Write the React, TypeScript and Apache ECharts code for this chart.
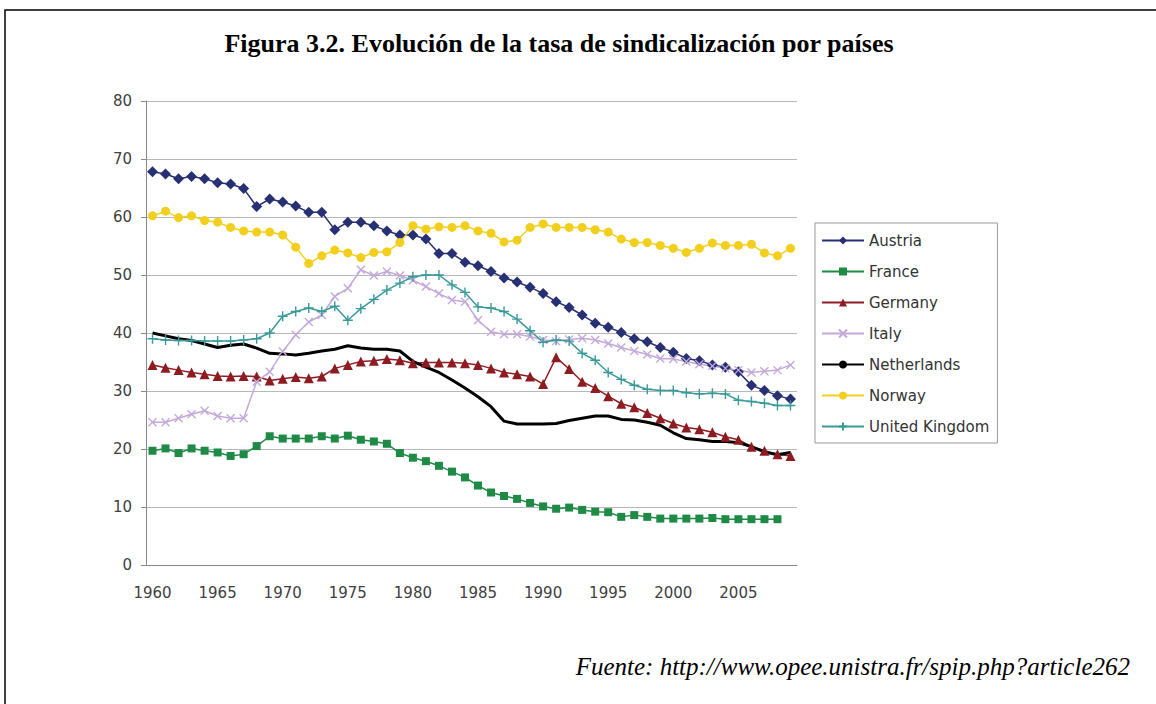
import React, { useEffect, useRef } from "react";
import * as echarts from "echarts";

const years: string[] = [];
for (let y = 1960; y <= 2009; y++) years.push(String(y));

const austria = [67.8,67.4,66.6,67.0,66.6,65.9,65.7,64.9,61.8,63.1, 62.6,61.9,60.8,60.8,57.8,59.1,59.1,58.5,57.6,56.9, 56.9,56.2,53.7,53.7,52.2,51.6,50.6,49.5,48.8,47.9, 46.8,45.4,44.4,43.1,41.7,41.0,40.1,39.0,38.5,37.5, 36.7,35.6,35.2,34.5,34.1,33.3,31.0,30.1,29.2,28.6];
const france = [19.7,20.1,19.3,20.1,19.7,19.4,18.8,19.1,20.5,22.2, 21.8,21.8,21.8,22.2,21.8,22.3,21.6,21.3,20.9,19.3, 18.5,17.9,17.1,16.1,15.1,13.7,12.5,11.9,11.4,10.7, 10.1,9.7,9.9,9.5,9.2,9.1,8.3,8.6,8.3,8.0, 8.0,8.0,8.0,8.1,7.9,7.9,7.9,7.9,7.9,null];
const germany = [34.5,34.0,33.6,33.2,32.9,32.6,32.5,32.6,32.5,31.8, 32.1,32.4,32.2,32.5,33.9,34.5,35.1,35.2,35.5,35.3, 34.8,34.9,34.9,34.9,34.8,34.5,33.9,33.2,32.9,32.5, 31.2,35.8,33.8,31.6,30.5,29.1,27.8,27.2,26.2,25.3, 24.4,23.7,23.4,22.9,22.1,21.6,20.4,19.7,19.1,18.8];
const italy = [24.6,24.6,25.3,26.0,26.6,25.7,25.3,25.3,31.6,33.3, 36.8,39.7,41.9,43.1,46.3,47.7,50.9,49.9,50.6,49.9, 49.1,48.0,46.8,45.7,45.4,42.2,40.2,39.8,39.8,39.4, 38.8,38.6,38.9,39.1,38.8,38.2,37.5,36.9,36.3,35.6, 35.5,35.1,34.6,34.3,33.9,33.6,33.2,33.4,33.6,34.5];
const netherlands = [40.0,39.5,39.0,38.7,38.1,37.5,37.9,38.1,37.4,36.5, 36.4,36.2,36.5,36.9,37.2,37.8,37.4,37.2,37.2,36.9, 35.1,34.1,33.2,31.9,30.5,29.0,27.3,24.8,24.3,24.3, 24.3,24.4,24.9,25.3,25.7,25.7,25.1,25.0,24.6,24.1, 22.8,21.8,21.6,21.3,21.3,21.1,20.4,19.5,19.0,19.4];
const norway = [60.2,61.0,59.9,60.2,59.4,59.1,58.2,57.6,57.4,57.4, 56.9,54.8,52.0,53.3,54.3,53.8,53.0,53.9,54.0,55.6, 58.5,57.9,58.3,58.2,58.5,57.6,57.2,55.7,56.0,58.2, 58.8,58.2,58.2,58.2,57.8,57.4,56.2,55.6,55.6,55.1, 54.6,53.9,54.6,55.5,55.1,55.1,55.3,53.8,53.3,54.6];
const uk = [39.0,38.8,38.7,38.7,38.6,38.6,38.6,38.8,39.0,40.0, 42.9,43.7,44.3,43.7,44.6,42.2,44.2,45.8,47.4,48.6, 49.7,50.0,50.0,48.3,47.0,44.5,44.3,43.7,42.4,40.4, 38.4,38.8,38.6,36.5,35.3,33.2,32.0,31.0,30.3,30.1, 30.1,29.7,29.5,29.6,29.5,28.4,28.2,27.9,27.5,27.5];

const seriesNames = ["Austria", "France", "Germany", "Italy", "Netherlands", "Norway", "United Kingdom"];
const titleText = "Figura 3.2. Evolución de la tasa de sindicalización por países";
const sourceText = "Fuente: http://www.opee.unistra.fr/spip.php?article262";

const X_PATH = "path://M0,0L10,10M10,0L0,10";
const PLUS_PATH = "path://M5,0L5,10M0,5L10,5";
const LABEL_FONT = "DejaVu Sans";

export default function App() {
  const ref = useRef<HTMLDivElement>(null);
  useEffect(() => {
    if (!ref.current) return;
    const chart = echarts.init(ref.current, undefined, { renderer: "svg" });
    const mk = (name: string, data: any[], color: string, symbol: string, size: number, extra: any = {}) => ({
      name,
      type: "line",
      data,
      color,
      symbol,
      symbolSize: size,
      showSymbol: symbol !== "none",
      showAllSymbol: true,
      lineStyle: { color, width: 1.5 },
      itemStyle: { color, borderColor: color, borderWidth: 0 },
      emphasis: { disabled: true },
      ...extra,
    });
    const strokeSym = (color: string) => ({ itemStyle: { color: "rgba(0,0,0,0)", borderColor: color, borderWidth: 1.4 } });
    chart.setOption({
      animation: false,
      backgroundColor: "#ffffff",
      textStyle: { fontFamily: LABEL_FONT },
      grid: { left: 146, top: 101, width: 651, height: 464, containLabel: false },
      legend: {
        orient: "vertical",
        left: 815,
        top: 223,
        padding: [10, 8, 9, 6],
        itemWidth: 42,
        itemHeight: 10,
        itemGap: 16,
        borderColor: "#999",
        borderWidth: 1,
        textStyle: { fontFamily: LABEL_FONT, fontSize: 15, color: "#333" },
        data: seriesNames,
      },
      xAxis: {
        type: "category",
        data: years,
        boundaryGap: true,
        axisLine: { lineStyle: { color: "#888" } },
        axisTick: { interval: 4, length: 5, lineStyle: { color: "#888" } },
        axisLabel: { interval: 4, margin: 20, fontSize: 15, color: "#404040", fontFamily: LABEL_FONT },
        splitLine: { show: false },
      },
      yAxis: {
        type: "value",
        min: 0,
        max: 80,
        interval: 10,
        axisLine: { show: true, lineStyle: { color: "#888" } },
        axisTick: { show: true, length: 5, lineStyle: { color: "#888" } },
        axisLabel: { margin: 14, fontSize: 15, color: "#404040", fontFamily: LABEL_FONT },
        splitLine: { lineStyle: { color: "#b8b8b8", width: 1 } },
      },
      series: [
        mk("Austria", austria, "#283074", "diamond", 11),
        mk("France", france, "#1e8a46", "rect", 8),
        mk("Germany", germany, "#8c1c22", "triangle", 10),
        mk("Italy", italy, "#c3a9d9", X_PATH, 8, strokeSym("#c3a9d9")),
        mk("Netherlands", netherlands, "#000000", "none", 0, { lineStyle: { color: "#000", width: 3 } }),
        mk("Norway", norway, "#f2cf1d", "circle", 9),
        mk("United Kingdom", uk, "#3a9a99", PLUS_PATH, 10, strokeSym("#3a9a99")),
      ],
      graphic: [
        {
          type: "rect",
          shape: { x: 5, y: 10, width: 1170, height: 720 },
          style: { fill: "none", stroke: "#000", lineWidth: 1.5 },
          silent: true,
        },
        {
          type: "text",
          x: 559,
          y: 43,
          style: {
            text: titleText,
            font: "bold 26px 'Liberation Serif'",
            fill: "#000",
            textAlign: "center",
            textVerticalAlign: "middle",
          },
        },
        {
          type: "text",
          x: 1130,
          y: 666,
          style: {
            text: sourceText,
            font: "italic 25px 'Liberation Serif'",
            fill: "#000",
            textAlign: "right",
            textVerticalAlign: "middle",
          },
        },
      ],
    });
    return () => chart.dispose();
  }, []);
  return <div ref={ref} style={{ position: "fixed", left: 0, top: 0, width: 1156, height: 704 }} />;
}
